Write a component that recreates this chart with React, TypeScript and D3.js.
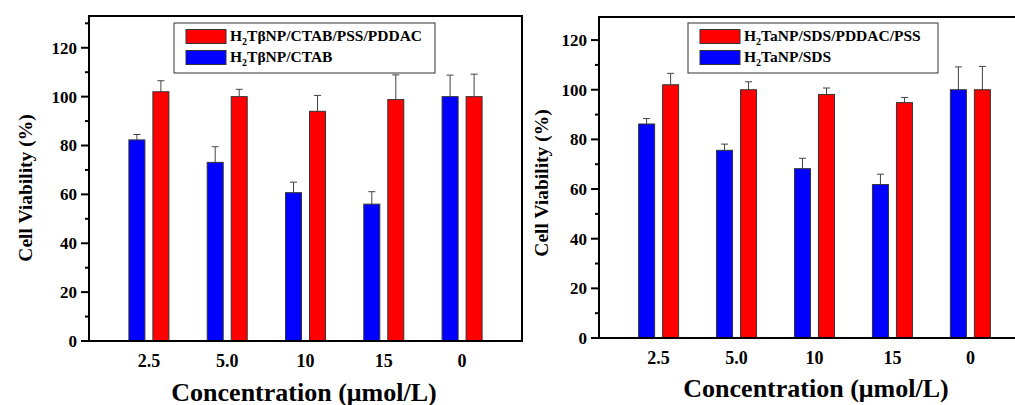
import React from "react";
import * as d3 from "d3";

const categories = ["2.5", "5.0", "10", "15", "0"];
const yTicksMajor = [0, 20, 40, 60, 80, 100, 120];

const leftRed = [102, 100, 94, 98.8, 100];
const leftRedErr = [4.5, 3, 6.5, 10.1, 9.2];
const leftBlue = [82.3, 73.1, 60.7, 56, 100];
const leftBlueErr = [2.2, 6.4, 4.3, 5.1, 8.8];

const rightRed = [102, 100, 98.1, 94.8, 100];
const rightRedErr = [4.6, 3.2, 2.6, 2.1, 9.4];
const rightBlue = [86.2, 75.6, 68.2, 61.8, 100];
const rightBlueErr = [2.2, 2.5, 4.2, 4.2, 9.2];

const leftLegend = ["TβNP/CTAB/PSS/PDDAC", "TβNP/CTAB"];
const rightLegend = ["TaNP/SDS/PDDAC/PSS", "TaNP/SDS"];

const FONT = "'Liberation Serif', 'Times New Roman', serif";

type PanelProps = {
  x0: number; x1: number; y0: number; y1: number; yMax: number;
  red: number[]; redErr: number[]; blue: number[]; blueErr: number[];
  legend: string[]; legendBox: [number, number, number, number];
  titleX: number; titleY: number; xTitleX: number; xTitleY: number;
};

function Panel(p: PanelProps) {
  const x = d3.scalePoint<string>().domain(categories).range([p.x0, p.x1]).padding(0.765);
  const y = d3.scaleLinear().domain([0, p.yMax]).range([p.y1, p.y0]);
  const minor = d3.range(10, p.yMax, 20);
  const bw = 16;
  const off = 12;
  const capW = 7;
  const errColor = "#444";
  const bars = (vals: number[], errs: number[], color: string, dx: number) =>
    categories.map((c, i) => {
      const cx = (x(c) as number) + dx;
      const top = y(vals[i]);
      const et = y(vals[i] + errs[i]);
      return (
        <g key={color + c}>
          <line x1={cx} x2={cx} y1={top} y2={et} stroke={errColor} strokeWidth={1} />
          <line x1={cx - capW / 2} x2={cx + capW / 2} y1={et} y2={et} stroke={errColor} strokeWidth={1} />
          <rect x={cx - bw / 2} y={top} width={bw} height={p.y1 - top} fill={color} stroke="#333" strokeWidth={1} />
        </g>
      );
    });
  const [lx, ly, lw, lh] = p.legendBox;
  const ts = { fontFamily: FONT, fontWeight: 700 as const };
  return (
    <g style={ts}>
      {bars(p.blue, p.blueErr, "#0000ff", -off)}
      {bars(p.red, p.redErr, "#ff0000", off)}
      <rect x={p.x0} y={p.y0} width={p.x1 - p.x0} height={p.y1 - p.y0} fill="none" stroke="#000" strokeWidth={2} />
      {yTicksMajor.map((t) => (
        <g key={"t" + t}>
          <line x1={p.x0 - 8} x2={p.x0} y1={y(t)} y2={y(t)} stroke="#000" strokeWidth={2} />
          <text style={ts} x={p.x0 - 12} y={y(t)} dy="0.35em" textAnchor="end" fontSize={17}>{t}</text>
        </g>
      ))}
      {minor.map((t) => (
        <line key={"m" + t} x1={p.x0 - 4} x2={p.x0} y1={y(t)} y2={y(t)} stroke="#000" strokeWidth={2} />
      ))}
      {categories.map((c) => (
        <text style={ts} key={"x" + c} x={x(c) as number} y={p.y1 + 25.5} textAnchor="middle" fontSize={18}>{c}</text>
      ))}
      <text style={ts} transform={`translate(${p.titleX},${p.titleY}) rotate(-90)`} textAnchor="middle" fontSize={19.5}>Cell Viability (%)</text>
      <text style={ts} x={p.xTitleX} y={p.xTitleY} textAnchor="middle" fontSize={26}>Concentration (μmol/L)</text>
      <rect x={lx} y={ly} width={lw} height={lh} fill="#fff" stroke="#333" strokeWidth={1} />
      {["#ff0000", "#0000ff"].map((col, i) => (
        <g key={"l" + i}>
          <rect x={lx + 12} y={ly + 6.5 + i * 21} width={40} height={14} fill={col} stroke="#333" strokeWidth={1} />
          <text style={ts} x={lx + 56} y={ly + 18 + i * 21} fontSize={15.5}>
            H<tspan fontSize={10} dy={4}>2</tspan><tspan dy={-4}>{p.legend[i]}</tspan>
          </text>
        </g>
      ))}
    </g>
  );
}

export default function App() {
  return (
    <svg width={1015} height={405} style={{ position: "absolute", left: 0, top: 0, background: "#fff" }}>
      <rect x={0} y={0} width={1015} height={405} fill="#fff" />
      <Panel x0={89} x1={522} y0={16} y1={341} yMax={133}
        red={leftRed} redErr={leftRedErr} blue={leftBlue} blueErr={leftBlueErr}
        legend={leftLegend} legendBox={[174, 23, 261, 50]}
        titleX={32} titleY={188} xTitleX={304} xTitleY={401} />
      <Panel x0={599} x1={1030} y0={17} y1={338} yMax={129.3}
        red={rightRed} redErr={rightRedErr} blue={rightBlue} blueErr={rightBlueErr}
        legend={rightLegend} legendBox={[688, 23, 250, 50]}
        titleX={548} titleY={183} xTitleX={816} xTitleY={397} />
    </svg>
  );
}
